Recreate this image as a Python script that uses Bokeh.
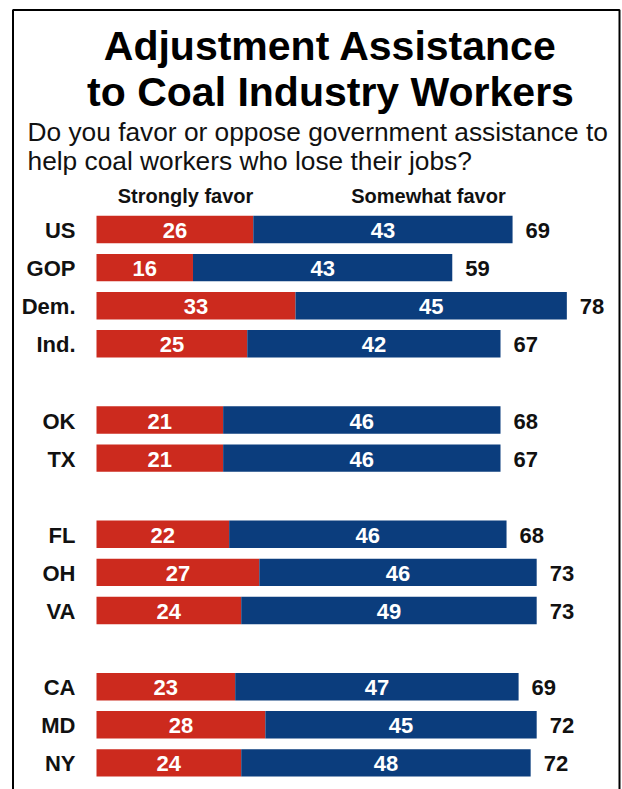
from bokeh.plotting import figure
from bokeh.models import ColumnDataSource, Range1d, Label, BoxAnnotation
from bokeh.core.properties import value
from bokeh.embed import file_html
from bokeh.resources import INLINE

# ---- data ----
labels = ["US", "GOP", "Dem.", "Ind.", "OK", "TX", "FL", "OH", "VA", "CA", "MD", "NY"]
strongly = [26, 16, 33, 25, 21, 21, 22, 27, 24, 23, 28, 24]
somewhat = [43, 43, 45, 42, 46, 46, 46, 46, 49, 47, 45, 48]
totals = [69, 59, 78, 67, 68, 67, 68, 73, 73, 69, 72, 72]
groups = [0, 0, 0, 0, 1, 1, 2, 2, 2, 3, 3, 3]

title_lines = ["Adjustment Assistance", "to Coal Industry Workers"]
subtitle_lines = ["Do you favor or oppose government assistance to",
                  "help coal workers who lose their jobs?"]
series_names = ["Strongly favor", "Somewhat favor"]

RED = "#CC2A1E"
BLUE = "#0B3D7D"
FONT = "Liberation Sans"

# ---- layout ----
W, H = 622, 789
bar_left_px = 96.0
px_per_unit = 6.03
first_row_px = 229.0
row_px = 38.1

# row positions: each group separated by one blank row
ypos = [i + g for i, g in enumerate(groups)]

x0 = -bar_left_px / px_per_unit
xr = Range1d(x0, x0 + W / px_per_unit)
y_top = -first_row_px / row_px
yr = Range1d(y_top + H / row_px, y_top)

p = figure(width=W, height=H, x_range=xr, y_range=yr, output_backend="svg",
           toolbar_location=None, min_border=0, outline_line_color=None,
           background_fill_color="white", border_fill_color="white")
p.xaxis.visible = False
p.yaxis.visible = False
p.xgrid.visible = False
p.ygrid.visible = False

ends = [s + m for s, m in zip(strongly, somewhat)]
src = ColumnDataSource(dict(
    y=ypos, label=labels, s=strongly, m=somewhat, t=totals, end=ends,
    s_mid=[s / 2 for s in strongly],
    m_mid=[s + m / 2 for s, m in zip(strongly, somewhat)],
    s_txt=[str(v) for v in strongly], m_txt=[str(v) for v in somewhat],
    t_txt=[str(v) for v in totals], zero=[0] * len(labels),
))

p.hbar(y="y", left="zero", right="s", height=0.72, source=src,
       fill_color=RED, line_color=None)
p.hbar(y="y", left="s", right="end", height=0.72, source=src,
       fill_color=BLUE, line_color=None)

common = dict(text_font=value(FONT), text_font_style="bold", text_baseline="middle",
              text_font_size="22px")
p.text(x="s_mid", y="y", text="s_txt", source=src, text_color="white",
       text_align="center", y_offset=1, **common)
p.text(x="m_mid", y="y", text="m_txt", source=src, text_color="white",
       text_align="center", y_offset=1, **common)
p.text(x="end", y="y", text="t_txt", source=src, text_color="#111111",
       text_align="left", x_offset=13, y_offset=1, **common)
p.text(x="zero", y="y", text="label", source=src, text_color="#111111",
       text_align="right", x_offset=-21, y_offset=1,
       text_font=value(FONT), text_font_style="bold", text_baseline="middle",
       text_font_size="22px")

# titles
for txt, base in zip(title_lines, [45, 91]):
    p.add_layout(Label(x=330, y=H - base, x_units="screen", y_units="screen",
                       text=txt, text_align="center", text_baseline="alphabetic",
                       text_font=FONT, text_font_style="bold", text_font_size="41px",
                       text_color="#000000"))
for txt, base in zip(subtitle_lines, [131, 160]):
    p.add_layout(Label(x=27, y=H - base, x_units="screen", y_units="screen",
                       text=txt, text_align="left", text_baseline="alphabetic",
                       text_font=FONT, text_font_size="26.3px", text_color="#111111"))
for txt, cx in zip(series_names, [185, 428]):
    p.add_layout(Label(x=cx, y=H - 195, x_units="screen", y_units="screen",
                       text=txt, text_align="center", text_baseline="alphabetic",
                       text_font=FONT, text_font_style="bold", text_font_size="20px",
                       text_color="#111111"))

# frame border
p.add_layout(BoxAnnotation(left=12.5, right=619, top=H - 9.5, bottom=-20,
                           left_units="screen", right_units="screen",
                           top_units="screen", bottom_units="screen",
                           fill_alpha=0, line_color="black", line_alpha=1,
                           line_width=2))

open("out.html", "w").write(file_html(p, INLINE))
